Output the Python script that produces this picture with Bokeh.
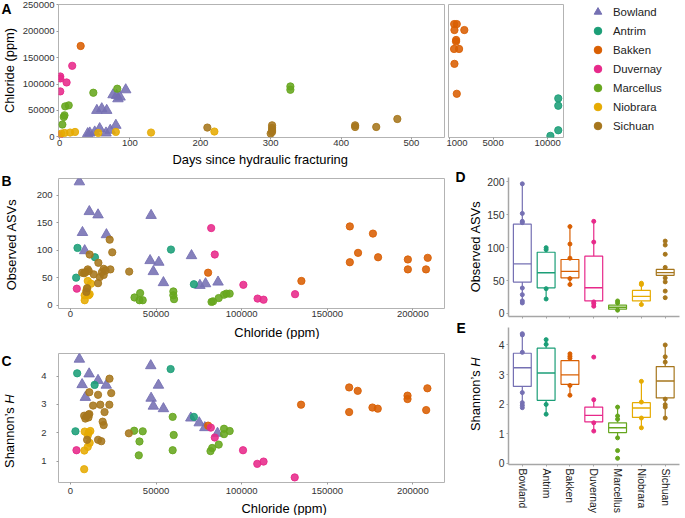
import math
from bokeh.plotting import figure
from bokeh.models import (Range1d, FixedTicker, NumeralTickFormatter, Legend,
                          LegendItem, ColumnDataSource)
from bokeh.layouts import row, column
from bokeh.embed import file_html
from bokeh.resources import INLINE
from bokeh.core.properties import value

FONT = "Liberation Sans"

basins = ["Bowland", "Antrim", "Bakken", "Duvernay", "Marcellus", "Niobrara", "Sichuan"]
colors = ["#7570b3", "#1b9e77", "#d95f02", "#e7298a", "#66a61e", "#e6ab02", "#a6761d"]
markers = ["triangle", "circle", "circle", "circle", "circle", "circle", "circle"]

# ---- Panel A: days since fracturing vs chloride ----
a_days_bowland = [43, 57, 66, 72, 80, 60, 67, 81, 86, 94, 40, 50, 53, 76, 83]
a_cl_bowland = [7500, 15700, 7500, 12600, 22000, 53400, 50200, 78500, 75400, 89200, 6300, 9400, 50200, 79800, 72200]
a_days_antrim = [10250, 10970, 10970, 10970]
a_cl_antrim = [2000, 12600, 59000, 72900]
a_days_bakken = [30, 1430, 1670, 1455, 2360, 1610, 1600, 1420, 1880, 1455, 1670]
a_cl_bakken = [172000, 213500, 213500, 202200, 202200, 183400, 180500, 166400, 166400, 138200, 81600]
a_days_duvernay = [1, 1, 1, 10, 18, 0]
a_cl_duvernay = [114300, 110600, 86100, 103000, 134500, 3200]
a_days_marcellus = [4, 7, 6, 8, 13, 48, 82, 328, 328]
a_cl_marcellus = [23400, 40900, 37700, 57800, 59700, 83600, 91200, 95500, 89200]
a_days_niobrara = [2.4, 7, 15, 22, 55, 80, 130, 220]
a_cl_niobrara = [6300, 7500, 8300, 9400, 7500, 9400, 8300, 10200]
a_days_sichuan = [210, 300, 302, 302, 302, 302, 420, 420, 450, 480]
a_cl_sichuan = [17700, 6300, 9400, 13000, 17000, 22000, 22000, 18800, 18800, 33900]

# ---- Panel B: chloride vs observed ASVs ----
b_cl_bowland = [5200, 11000, 16100, 7000, 21000, 8300, 47100, 46500, 51600, 48400, 54300, 70700, 75600, 78900, 86200]
b_asv_bowland = [224, 170, 164, 132, 128, 99, 163, 81, 78, 61, 41, 90, 36, 39, 42]
b_cl_antrim = [4100, 3300, 14300, 58700, 72100]
b_asv_antrim = [104, 50, 87, 101, 38]
b_cl_bakken = [80400, 134900, 163200, 163200, 168000, 176700, 179700, 197100, 197100, 208700, 207700]
b_asv_bakken = [59, 44, 143, 78, 95, 130, 87, 83, 65, 86, 65]
b_cl_duvernay = [3700, 82200, 84300, 101000, 109300, 112800, 131200]
b_asv_duvernay = [30, 140, 92, 37, 12, 10, 20]
b_cl_marcellus = [37400, 40700, 40300, 42200, 60100, 60100, 60500, 82400, 83300, 86600, 89700, 91100, 93000]
b_asv_marcellus = [14, 22, 9, 9, 25, 18, 11, 6, 7, 13, 19, 21, 21]
b_cl_niobrara = [10100, 12000, 9300, 11200, 8300, 8300, 10600, 9800]
b_asv_niobrara = [44, 39, 27, 20, 18, 9, 18, 30]
b_cl_sichuan = [22900, 24400, 11200, 16300, 6800, 8700, 10100, 10700, 13600, 9300, 16100, 17100, 18400, 19400, 23300, 34300, 19400, 9700, 8000, 20500]
b_asv_sichuan = [119, 96, 92, 77, 59, 60, 65, 62, 56, 24, 40, 51, 60, 66, 65, 61, 55, 31, 58, 63]

# ---- Panel C: chloride vs Shannon's H ----
c_cl_bowland = [5200, 10900, 6800, 16100, 20900, 8700, 46900, 51400, 47100, 48400, 54300, 70300, 75200, 78500, 85900]
c_h_bowland = [4.6, 4.08, 3.7, 3.85, 3.68, 3.25, 4.37, 3.68, 3.22, 2.94, 2.85, 2.52, 2.35, 2.18, 1.98]
c_cl_antrim = [3900, 2900, 14100, 58500, 72100]
c_h_antrim = [4.1, 2.05, 3.69, 4.25, 2.56]
c_cl_bakken = [80400, 134700, 162800, 162800, 167800, 176400, 179500, 196900, 196900, 208500, 207800]
c_h_bakken = [2.25, 2.99, 3.6, 2.73, 3.48, 2.89, 2.85, 3.31, 3.19, 3.57, 2.8]
c_cl_duvernay = [3500, 82000, 84300, 100800, 109100, 112800, 131000]
c_h_duvernay = [1.38, 2.18, 1.83, 1.38, 0.9, 0.98, 0.42]
c_cl_marcellus = [37200, 42200, 40300, 39900, 59700, 60300, 59700, 81800, 82800, 86600, 89700, 89700, 93000]
c_h_marcellus = [2.07, 2.05, 1.69, 1.2, 2.56, 1.92, 1.38, 1.35, 1.46, 1.58, 2.14, 1.95, 2.06]
c_cl_niobrara = [8300, 10600, 11600, 10100, 11200, 10100, 8100, 8000]
c_h_niobrara = [2.04, 2.0, 2.06, 1.9, 1.64, 1.5, 1.37, 0.71]
c_cl_sichuan = [22800, 23800, 11000, 16100, 13200, 17400, 22700, 19900, 8000, 9300, 10500, 8700, 10500, 11000, 18800, 19400, 9700, 16100, 18000, 34100]
c_h_sichuan = [3.91, 3.4, 3.43, 3.34, 2.96, 2.99, 2.99, 2.73, 2.6, 2.57, 2.64, 2.5, 2.54, 2.66, 2.39, 2.27, 1.75, 1.75, 1.7, 1.98]

# ---- Panel D: box plots of observed ASVs ----
d_lower = [16, 22, 44, 11, 5, 13.6, 54]
d_q1 = [47.7, 39, 54, 19, 6.5, 19, 58]
d_median = [75.4, 61.8, 64, 39, 9.5, 26, 62]
d_q3 = [135.7, 93, 82, 87, 12.6, 35, 67]
d_upper = [197, 99, 132, 140, 19, 46, 70]
d_pts_bowland = [197, 152, 140, 138, 38.7, 28.6, 19, 16]
d_pts_antrim = [100, 97, 37.7, 22]
d_pts_bakken = [132, 105.5, 84, 53, 44]
d_pts_duvernay = [140, 108.5, 17.6, 15, 11]
d_pts_marcellus = [19, 16, 5]
d_pts_niobrara = [46, 44, 13.6]
d_pts_sichuan = [110, 104, 90, 70, 54, 48, 34, 24]

# ---- Panel E: box plots of Shannon's H ----
e_lower = [1.88, 1.66, 2.3, 1.09, 0.84, 1.2, 1.53]
e_q1 = [2.6, 2.13, 2.67, 1.4, 1.04, 1.55, 2.21]
e_median = [3.23, 3.05, 2.99, 1.62, 1.2, 1.87, 2.78]
e_q3 = [3.72, 3.89, 3.47, 1.9, 1.37, 2.05, 3.27]
e_upper = [4.38, 4.18, 3.7, 2.15, 1.9, 2.77, 4.0]
e_pts_bowland = [4.38, 4.34, 3.75, 2.39, 2.05, 1.96, 1.88]
e_pts_antrim = [4.18, 4.02, 1.99, 1.66]
e_pts_bakken = [3.7, 3.62, 3.55, 2.63, 2.3]
e_pts_duvernay = [3.59, 2.15, 1.37, 1.09]
e_pts_marcellus = [1.9, 1.6, 1.49, 0.86, 0.43, 0.17]
e_pts_niobrara = [2.77, 2.07, 1.53, 1.2]
e_pts_sichuan = [4.0, 3.6, 3.42, 2.17, 1.98, 1.9, 1.53]

a_days_ticks = [0, 100, 200, 300, 400, 500]
a_days_ticks_late = [1000, 5000, 10000]
a_cl_ticks = [0, 50000, 100000, 150000, 200000, 250000]
cl_ticks = [0, 50000, 100000, 150000, 200000]
asv_ticks = [0, 50, 100, 150, 200]
h_ticks_c = [1, 2, 3, 4]
h_ticks_e = [0, 1, 2, 3, 4]

A_X = [a_days_bowland, a_days_antrim, a_days_bakken, a_days_duvernay, a_days_marcellus, a_days_niobrara, a_days_sichuan]
A_Y = [a_cl_bowland, a_cl_antrim, a_cl_bakken, a_cl_duvernay, a_cl_marcellus, a_cl_niobrara, a_cl_sichuan]
B_X = [b_cl_bowland, b_cl_antrim, b_cl_bakken, b_cl_duvernay, b_cl_marcellus, b_cl_niobrara, b_cl_sichuan]
B_Y = [b_asv_bowland, b_asv_antrim, b_asv_bakken, b_asv_duvernay, b_asv_marcellus, b_asv_niobrara, b_asv_sichuan]
C_X = [c_cl_bowland, c_cl_antrim, c_cl_bakken, c_cl_duvernay, c_cl_marcellus, c_cl_niobrara, c_cl_sichuan]
C_Y = [c_h_bowland, c_h_antrim, c_h_bakken, c_h_duvernay, c_h_marcellus, c_h_niobrara, c_h_sichuan]
D_P = [d_pts_bowland, d_pts_antrim, d_pts_bakken, d_pts_duvernay, d_pts_marcellus, d_pts_niobrara, d_pts_sichuan]
E_P = [e_pts_bowland, e_pts_antrim, e_pts_bakken, e_pts_duvernay, e_pts_marcellus, e_pts_niobrara, e_pts_sichuan]

S = 0.995

# approximate Helvetica/Arial advance widths (em) used to join the italic "H" to its label
CHAR_W = {"S": 0.667, "h": 0.556, "a": 0.556, "n": 0.556, "o": 0.556, "\u2019": 0.222,
          "s": 0.5, " ": 0.278, "H": 0.722}


def px(v):
    return int(round(v * S))


def fs(v):
    return f"{v * S:.1f}px"


def make_fig(box, frame, xr, yr, **kw):
    x0, y0, x1, y1 = box
    fl, ft, fr, fb = frame
    p = figure(width=px(x1) - px(x0), height=px(y1) - px(y0),
               x_range=Range1d(*xr), y_range=Range1d(*yr),
               output_backend="svg", toolbar_location=None, **kw)
    p.min_border_left = px(fl) - px(x0)
    p.min_border_right = px(x1) - px(fr)
    p.min_border_top = px(ft) - px(y0)
    p.min_border_bottom = px(y1) - px(fb)
    p.xgrid.visible = False
    p.ygrid.visible = False
    p.background_fill_color = "white"
    p.border_fill_color = "white"
    p.outline_line_color = None
    return p


def make_strip(box):
    x0, y0, x1, y1 = box
    w, h = px(x1) - px(x0), px(y1) - px(y0)
    p = figure(width=w, height=h, x_range=Range1d(0, w), y_range=Range1d(0, h),
               output_backend="svg", toolbar_location=None,
               x_axis_location=None, y_axis_location=None, min_border=0)
    p.xgrid.visible = False
    p.ygrid.visible = False
    p.outline_line_color = None
    p.background_fill_color = "white"
    p.border_fill_color = "white"
    return p


def strip_letter(p, box, text, lx, ly):
    h = px(box[3]) - px(box[1])
    p.text(x=[px(lx) - px(box[0])], y=[h - (px(ly) - px(box[1]))], text=[text],
           text_font=value(FONT), text_font_style="bold", text_font_size=value(fs(14)),
           text_baseline="top", text_align="left", text_color="black")


def strip_xlabel(p, box, text, cx, cy):
    h = px(box[3]) - px(box[1])
    p.text(x=[cx * S - px(box[0])], y=[h - (cy * S - px(box[1]))], text=[text],
           text_font=value(FONT), text_font_size=value(fs(13)),
           text_baseline="middle", text_align="center", text_color="black")


def strip_ylabel(p, box, text, cx, cy):
    h = px(box[3]) - px(box[1])
    p.text(x=[px(cx) - px(box[0])], y=[h - (px(cy) - px(box[1]))], text=[text], angle=math.pi / 2,
           text_font=value(FONT), text_font_size=value(fs(13)),
           text_baseline="middle", text_align="center", text_color="black")


def strip_ylabel_italic(p, box, normal, italic, cx, cy):
    h = px(box[3]) - px(box[1])
    size = 13 * S
    wn = sum(CHAR_W[ch] for ch in normal) * size
    wi = sum(CHAR_W[ch] for ch in italic) * size
    join = cy * S + (wi - wn) / 2.0          # page y where the two parts meet
    x = px(cx) - px(box[0])
    y = h - (join - px(box[1]))
    p.text(x=[x], y=[y], text=[normal], angle=math.pi / 2, text_font=value(FONT),
           text_font_size=value(fs(13)), text_baseline="middle", text_align="right",
           text_color="black")
    p.text(x=[x], y=[y], text=[italic], angle=math.pi / 2, text_font=value(FONT),
           text_font_style="italic", text_font_size=value(fs(13)), text_baseline="middle",
           text_align="left", text_color="black")


def style_axis(ax, ticks, tick_font, tick_out, standoff,
               line_color=None, tick_color="#9a9a9a"):
    ax.ticker = FixedTicker(ticks=ticks)
    ax.axis_line_color = line_color
    ax.axis_line_width = 1.5
    ax.major_tick_line_color = tick_color
    ax.major_tick_out = tick_out
    ax.major_tick_in = 0
    ax.minor_tick_line_color = None
    ax.major_label_text_font = FONT
    ax.major_label_text_font_size = tick_font
    ax.major_label_text_color = "#333333"
    ax.major_label_standoff = standoff
    ax.axis_label = None


def scatter_all(p, XS, YS):
    for xs, ys, c, m in zip(XS, YS, colors, markers):
        p.scatter(xs, ys, marker=m, size=10.5 if m == "triangle" else 7.3,
                  fill_color=c, line_color=c, fill_alpha=0.88, line_alpha=0.88)


# ---------------- left strip (panel letters + y titles) ----------------
boxS = (0, 0, 19, 518)
ps = make_strip(boxS)
strip_letter(ps, boxS, "A", 1.5, -0.5)
strip_letter(ps, boxS, "B", 1.5, 173)
strip_letter(ps, boxS, "C", 1.5, 353.5)
strip_ylabel(ps, boxS, "Chloride (ppm)", 9.5, 70.5)
strip_ylabel(ps, boxS, "Observed ASVs", 11, 245)
strip_ylabel_italic(ps, boxS, "Shannon\u2019s ", "H", 9.5, 433)

# ---------------- Panel A (left: early days) ----------------
boxA = (19, 0, 448, 151.5)
frA = (58.3, 4.3, 446.7, 137.3)
pa = make_fig(boxA, frA, (-1.5, 547), (-1100, 250500))
pa.outline_line_color = "#b3b3b3"
scatter_all(pa, A_X, A_Y)
style_axis(pa.xaxis[0], a_days_ticks, fs(9.5), 2, 0)
style_axis(pa.yaxis[0], a_cl_ticks, fs(9.5), 2, 2)
pa.yaxis[0].formatter = NumeralTickFormatter(format="0")

# ---------------- Panel A (right: late days) ----------------
boxA2 = (448, 0, 568, 151.5)
frA2 = (450, 4.3, 566, 137.3)
pa2 = make_fig(boxA2, frA2, (910, 11450), (-1100, 250500), y_axis_location=None)
pa2.outline_line_color = "#b3b3b3"
scatter_all(pa2, A_X, A_Y)
style_axis(pa2.xaxis[0], a_days_ticks_late, fs(9.5), 2, 0)

boxSA = (19, 151.5, 568, 168)
psa = make_strip(boxSA)
strip_xlabel(psa, boxSA, "Days since hydraulic fracturing", 261, 159.3)

# ---------------- Legend (its renderers hold panel A data, outside its view) ----------------
boxL = (568, 0, 685, 168)
pl = make_fig(boxL, (588, 0, 685, 168), (0, 1), (0, 1), x_axis_location=None, y_axis_location=None)
items = []
for b, xs, ys, c, m in zip(basins, A_X, A_Y, colors, markers):
    r = pl.scatter(xs, ys, marker=m, size=8, fill_color=c, line_color=c)
    items.append(LegendItem(label=b, renderers=[r]))
legend = Legend(items=items, location="top_left", padding=0, margin=2, spacing=0,
                glyph_width=21, glyph_height=19, label_height=10, label_standoff=5,
                label_text_font=FONT, label_text_font_size=fs(11.5), label_text_color="#222222",
                border_line_color=None, background_fill_alpha=0)
pl.add_layout(legend)

# ---------------- Panel B ----------------
boxB = (19, 168, 448, 326)
frB = (58.3, 179.3, 446, 310)
pb = make_fig(boxB, frB, (-7000, 218500), (-6, 230))
pb.outline_line_color = "#b3b3b3"
scatter_all(pb, B_X, B_Y)
style_axis(pb.xaxis[0], cl_ticks, fs(9.5), 2, 0)
style_axis(pb.yaxis[0], asv_ticks, fs(9.5), 2, 4)
pb.xaxis[0].formatter = NumeralTickFormatter(format="0")

boxSB = (19, 326, 448, 341)
psb = make_strip(boxSB)
strip_xlabel(psb, boxSB, "Chloride (ppm)", 262, 333.5)

# ---------------- Panel C ----------------
boxC = (19, 341, 448, 503)
frC = (58.3, 354.3, 446, 484.3)
pc = make_fig(boxC, frC, (-7000, 218500), (0.24, 4.8))
pc.outline_line_color = "#b3b3b3"
scatter_all(pc, C_X, C_Y)
style_axis(pc.xaxis[0], cl_ticks, fs(9.5), 2, 3)
style_axis(pc.yaxis[0], h_ticks_c, fs(9.5), 2, 10)
pc.xaxis[0].formatter = NumeralTickFormatter(format="0")

boxSC = (19, 503, 448, 518)
psc = make_strip(boxSC)
strip_xlabel(psc, boxSC, "Chloride (ppm)", 270, 510.5)

# ---------------- middle strip (letters D, E and their y titles) ----------------
boxM = (448, 168, 486, 518)
pm = make_strip(boxM)
strip_letter(pm, boxM, "D", 457, 168.5)
strip_letter(pm, boxM, "E", 458, 320.5)
strip_ylabel(pm, boxM, "Observed ASVs", 477.5, 247.5)
strip_ylabel_italic(pm, boxM, "Shannon\u2019s ", "H", 477.5, 396)

pos = list(range(1, len(basins) + 1))


def box_panel(p, lower, q1, med, q3, upper, pts):
    half = 0.375
    src = ColumnDataSource(dict(x=pos, lo=lower, q1=q1, med=med, q3=q3, hi=upper, c=colors,
                                x0=[v - half for v in pos], x1=[v + half for v in pos]))
    p.segment(x0="x", y0="lo", x1="x", y1="q1", source=src, line_color="c", line_width=1.2)
    p.segment(x0="x", y0="q3", x1="x", y1="hi", source=src, line_color="c", line_width=1.2)
    p.vbar(x="x", width=2 * half, bottom="q1", top="q3", source=src, fill_color="white",
           line_color="c", line_width=1.2)
    p.segment(x0="x0", y0="med", x1="x1", y1="med", source=src, line_color="c", line_width=1.4)
    for xv, ys, c in zip(pos, pts, colors):
        p.scatter([xv] * len(ys), ys, marker="circle", size=4, fill_color=c, line_color=c)


# ---------------- Panel D ----------------
boxD = (486, 168, 685, 326)
frD = (509.3, 178, 682.7, 317.7)
pdd = make_fig(boxD, frD, (0.42, 7.6), (-4.6, 206.6))
box_panel(pdd, d_lower, d_q1, d_median, d_q3, d_upper, D_P)
style_axis(pdd.xaxis[0], pos, "1px", 2, 0, line_color="#a6a6a6", tick_color="#a6a6a6")
pdd.xaxis[0].major_label_overrides = {v: "" for v in pos}
style_axis(pdd.yaxis[0], asv_ticks, fs(10.5), 2, 2, line_color="#a6a6a6", tick_color="#a6a6a6")

# ---------------- Panel E ----------------
boxE = (486, 326, 685, 518)
frE = (509.3, 328.4, 682.7, 466.2)
pe = make_fig(boxE, frE, (0.42, 7.6), (-0.04, 4.59))
box_panel(pe, e_lower, e_q1, e_median, e_q3, e_upper, E_P)
style_axis(pe.xaxis[0], pos, fs(10.5), 2, 2, line_color="#a6a6a6", tick_color="#a6a6a6")
pe.xaxis[0].major_label_overrides = {v: b for v, b in zip(pos, basins)}
pe.xaxis[0].major_label_orientation = -math.pi / 2
pe.xaxis[0].major_label_text_color = "#222222"
style_axis(pe.yaxis[0], h_ticks_e, fs(10.5), 2, 2, line_color="#a6a6a6", tick_color="#a6a6a6")

layout = row(ps, column(row(column(row(pa, pa2), psa), pl),
                        row(column(pb, psb, pc, psc), pm, column(pdd, pe))))
open("out.html", "w").write(file_html(layout, INLINE))
